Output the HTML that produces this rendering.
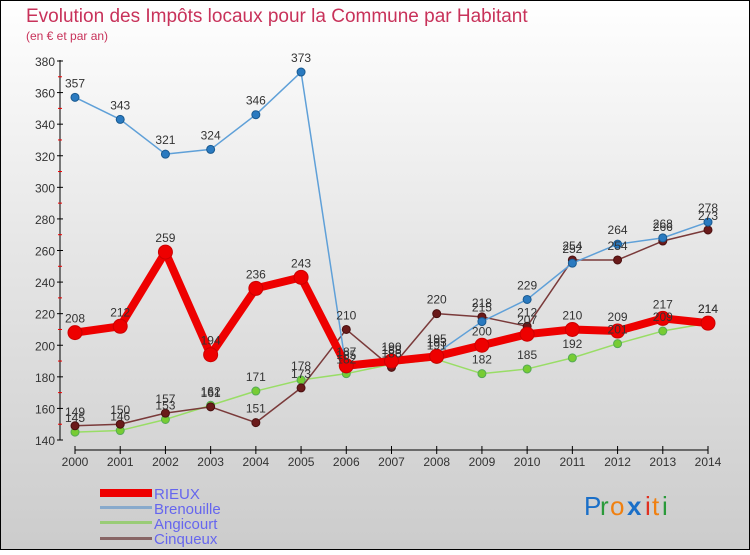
<!DOCTYPE html>
<html><head><meta charset="utf-8"><style>
body{margin:0}
#c{width:750px;height:550px;position:relative;font-family:"Liberation Sans",sans-serif}
</style></head><body>
<div id="c">
<svg id="s" width="750" height="550" xmlns="http://www.w3.org/2000/svg">
<defs><linearGradient id="bg" x1="0" y1="0" x2="0" y2="1">
<stop offset="0" stop-color="#ffffff"/><stop offset="0.45" stop-color="#e6e6e6"/><stop offset="1" stop-color="#cccccc"/></linearGradient></defs>
<rect x="0.5" y="0.5" width="749" height="549" fill="url(#bg)" stroke="#000"/>
<text x="26" y="22" font-size="19" fill="#c8325a">Evolution des Impôts locaux pour la Commune par Habitant</text>
<text x="26" y="40" font-size="12" fill="#c8325a">(en € et par an)</text>
<g id="axes"></g><g id="series"></g><g id="labels"></g>
<g>
<rect x="100" y="489" width="52" height="8" fill="#e00"/>
<text x="154" y="499" font-size="15" fill="#6666ee">RIEUX</text>
<rect x="100" y="506" width="52" height="3" fill="#88aacc"/>
<text x="154" y="514" font-size="15" fill="#6666ee">Brenouille</text>
<rect x="100" y="521" width="52" height="3" fill="#99cc77"/>
<text x="154" y="529" font-size="15" fill="#6666ee">Angicourt</text>
<rect x="100" y="537" width="52" height="3" fill="#886666"/>
<text x="154" y="544" font-size="15" fill="#6666ee">Cinqueux</text>
</g>
<g font-size="26" font-family="Liberation Sans, sans-serif">
<text x="584" y="515" fill="#1a6fc8">P</text><text x="600" y="515" fill="#2a9a3a">r</text><text x="610" y="515" fill="#f08010">o</text><text x="627" y="515" fill="#1a6fc8" font-weight="bold">x</text><text x="645" y="515" fill="#e03020">i</text><text x="652" y="515" fill="#f08010">t</text><text x="662" y="515" fill="#2a9a3a">i</text>
</g>
</svg>
</div>
<script>
const years=[2000,2001,2002,2003,2004,2005,2006,2007,2008,2009,2010,2011,2012,2013,2014];
const yTicks=[140,160,180,200,220,240,260,280,300,320,340,360,380];
const rieux=[208,212,259,194,236,243,187,190,193,200,207,210,209,217,214];
const brenouille=[357,343,321,324,346,373,185,188,195,215,229,252,264,268,278];
const angicourt=[145,146,153,162,171,178,182,188,191,182,185,192,201,209,214];
const cinqueux=[149,150,157,161,151,173,210,186,220,218,212,254,254,266,273];
const NS="http://www.w3.org/2000/svg";
function X(i){return 75+i*(708-75)/(years.length-1);}
function Y(v){return 440-(v-140)*(440-61)/240;}
function mk(tag,attrs,parent){const e=document.createElementNS(NS,tag);for(const k in attrs)e.setAttribute(k,attrs[k]);parent.appendChild(e);return e;}
const ax=document.getElementById('axes');
const yl=mk('line',{x1:60,y1:Y(380)-1,x2:60,y2:Y(140),stroke:'#000'},ax);


yTicks.forEach(t=>{
  mk('line',{x1:57,y1:Y(t),x2:63,y2:Y(t),stroke:'#000'},ax);
  mk('line',{x1:58,y1:Y(t+10),x2:62,y2:Y(t+10),stroke:t<380?'#e00':'none'},ax);
  const tx=mk('text',{x:55,y:Y(t)+5,'font-size':12,'text-anchor':'end',fill:'#333'},ax);
  tx.textContent=t;
  
  
});
const xl=mk('line',{x1:75,y1:450,x2:708,y2:450,stroke:'#000'},ax);


years.forEach((y,i)=>{
  mk('line',{x1:X(i),y1:446,x2:X(i),y2:454,stroke:'#000'},ax);
  const tx=mk('text',{x:X(i),y:466,'font-size':12,'text-anchor':'middle',fill:'#333'},ax);
  tx.textContent=y;
  
  
});
const sg=document.getElementById('series'),lg=document.getElementById('labels');
function draw(data,name,color,w,r,dot,dotStroke){
  const g=mk('g',{},sg);
  
  
  const pl=mk('polyline',{points:data.map((v,i)=>X(i)+','+Y(v)).join(' '),fill:'none',stroke:color,'stroke-width':w,'stroke-linejoin':'round'},g);
  
  
  data.forEach((v,i)=>{
    const c=mk('circle',{cx:X(i),cy:Y(v),r:r,fill:dot,stroke:dotStroke,'stroke-width':1},g);
    
    
    const t=mk('text',{x:X(i),y:Y(v)-10,'font-size':12,'text-anchor':'middle',fill:'#333'},lg);
    t.textContent=v;
    
    
  });
}
draw(angicourt,'angicourt','#99dd66',1.5,4,'#77cc33','#5a5');
draw(cinqueux,'cinqueux','#7a3a3a',1.5,4,'#6a1a1a','#4a1010');
draw(brenouille,'brenouille','#5fa0d8',1.5,4,'#2a7ac0','#1a5a90');
draw(rieux,'rieux','#ee0000',8,7,'#ee0000','#cc0000');
</script>
</body></html>
